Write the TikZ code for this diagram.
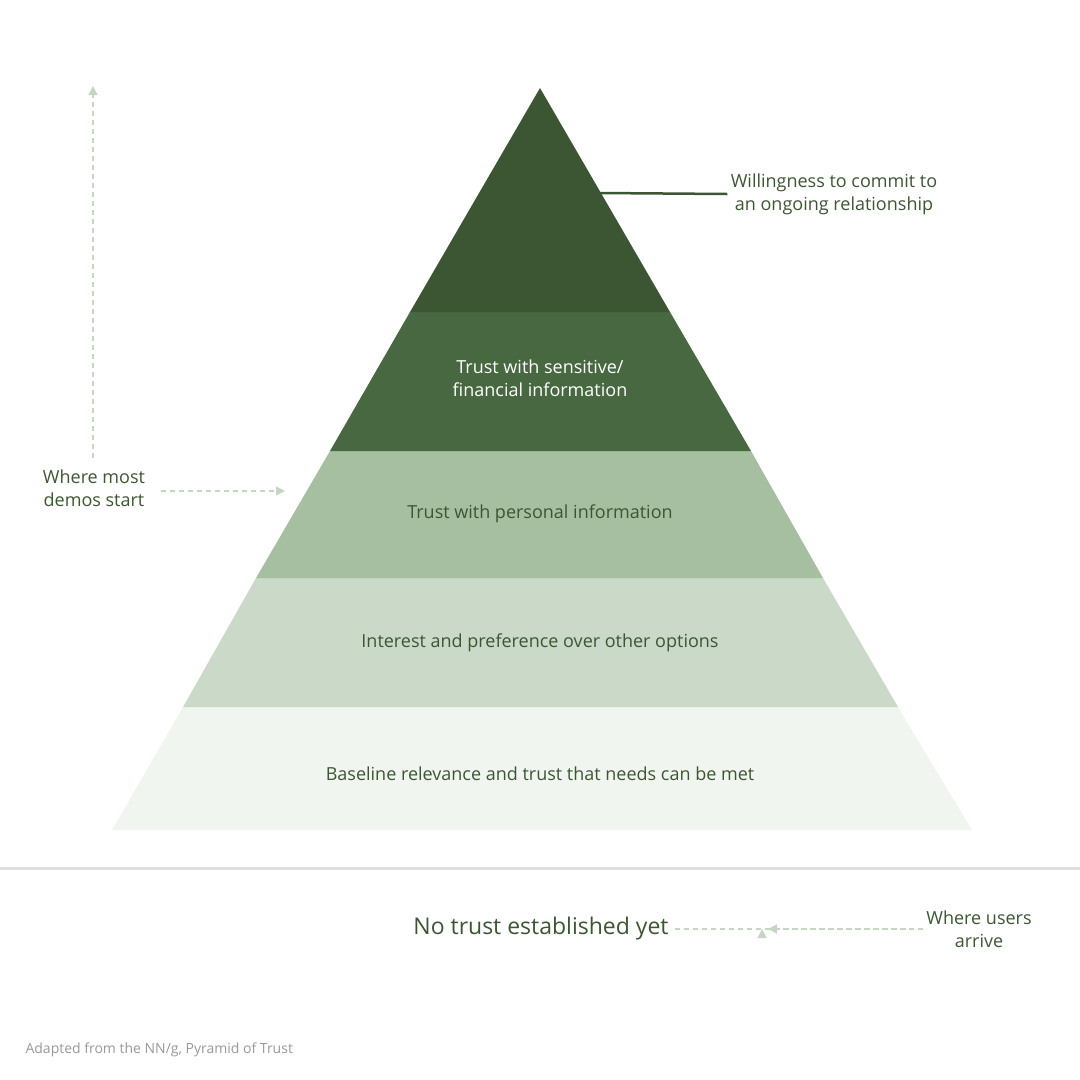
\documentclass[tikz,border=0pt]{standalone}
\usepackage{fontspec}
\setmainfont{Open Sans}
\usetikzlibrary{arrows.meta}
\definecolor{layerA}{HTML}{3C5634}
\definecolor{layerB}{HTML}{476840}
\definecolor{layerC}{HTML}{A5BFA0}
\definecolor{layerD}{HTML}{CAD9C8}
\definecolor{layerE}{HTML}{F1F5F0}
\definecolor{ink}{HTML}{3C5634}
\definecolor{hint}{HTML}{C5D6C2}
\tikzset{label/.style = {text=ink, font=\fontsize{18}{23}\selectfont, align=center},
	inner/.style    = {label, text=white},
	hintline/.style = {draw=hint, line width=1.5pt, dashed, dash pattern=on 5pt off 4pt, -{Triangle[length=9pt,width=9pt]}}
}
\begin{document}
\begin{tikzpicture}[x=1pt,y=-1pt]
		\useasboundingbox (0,0) rectangle (1080,1080);
		%% layers of the pyramid, bottom to top
		\fill[layerE] (112,830) -- (183,707) -- (898,707) -- (972,830) -- cycle;
		\fill[layerD] (183,707) -- (256,578) -- (823,578) -- (898,707) -- cycle;
		\fill[layerC] (256,578) -- (330,451) -- (751,451) -- (823,578) -- cycle;
		\fill[layerB] (330,451) -- (410,312) -- (670,312) -- (751,451) -- cycle;
		\fill[layerA] (410,312) -- (540,88) -- (670,312) -- cycle;
		\node[inner] (l4) at (540,378) {Trust with sensitive/\\financial information};
		\node[label] (l3) at (540,514) {Trust with personal information};
		\node[label] (l2) at (540,643) {Interest and preference over other options};
		\node[label] (l1) at (540,774) {Baseline relevance and trust that needs can be met};
		%% top label with leader line
		\node[label] (top) at (834,194) {Willingness to commit to\\an ongoing relationship};
		\coordinate (tip) at (600,193);
		\draw[ink, line width=2.5pt] (tip) -- (top.west);
		%% ground line
		\coordinate (g1) at (0,868);
		\coordinate (g2) at (1080,868);
		\draw[black!13, line width=3pt] (g1) -- (g2);
		\node[label, font=\fontsize{23}{28}\selectfont] (none) at (541,929) {No trust established yet};
		\node[label] (arrive) at (979,929) {Where users\\arrive};
		\path[hintline] (arrive.west) -- (none.east) ++(90,0);
		\coordinate (na) at (768,929);
		\path[hintline] (arrive.west) ++(-17,0) -- (na);
		%% left side hints
		\node[label] (demos) at (94,488) {Where most\\demos start};
		\coordinate (dm) at (285,491);
		\path[hintline] (demos.east) ++(12,3) -- (dm);
		\coordinate (up) at (93,86);
		\path[hintline] (demos.north) ++(-1,-8) -- (up);
		\node[text=black!40, font=\fontsize{14}{17}\selectfont, anchor=west] (src) at (22,1050) {Adapted from the NN/g, Pyramid of Trust};
	\end{tikzpicture}
\end{document}
